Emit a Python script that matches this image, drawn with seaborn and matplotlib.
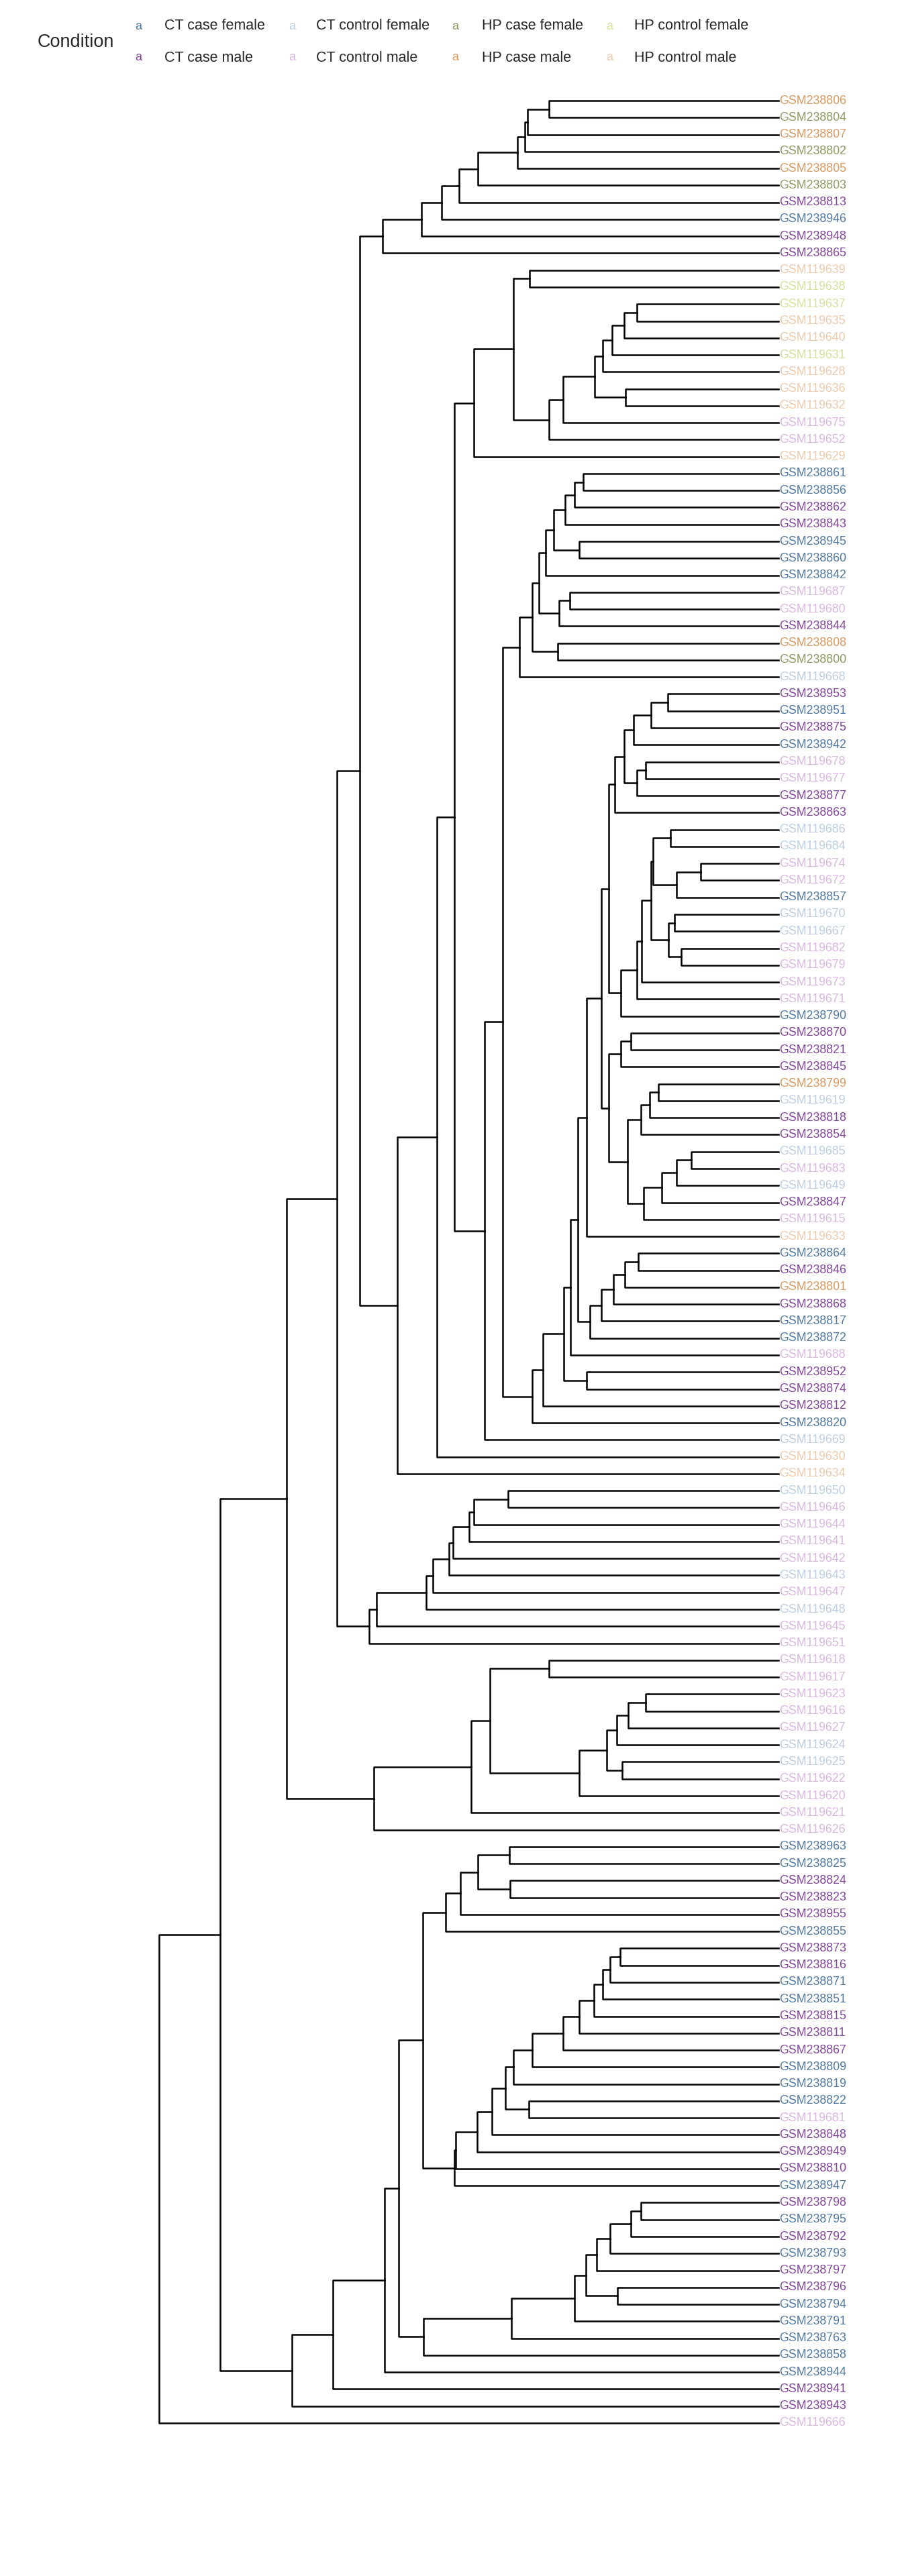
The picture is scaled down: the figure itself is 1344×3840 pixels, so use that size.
import numpy as np
import pandas as pd
import matplotlib
matplotlib.use("Agg")
import matplotlib.pyplot as plt
import seaborn as sns

# leaf labels, top to bottom as drawn
labels = [
    "GSM238806", "GSM238804", "GSM238807", "GSM238802", "GSM238805", "GSM238803",
    "GSM238813", "GSM238946", "GSM238948", "GSM238865", "GSM119639", "GSM119638",
    "GSM119637", "GSM119635", "GSM119640", "GSM119631", "GSM119628", "GSM119636",
    "GSM119632", "GSM119675", "GSM119652", "GSM119629", "GSM238861", "GSM238856",
    "GSM238862", "GSM238843", "GSM238945", "GSM238860", "GSM238842", "GSM119687",
    "GSM119680", "GSM238844", "GSM238808", "GSM238800", "GSM119668", "GSM238953",
    "GSM238951", "GSM238875", "GSM238942", "GSM119678", "GSM119677", "GSM238877",
    "GSM238863", "GSM119686", "GSM119684", "GSM119674", "GSM119672", "GSM238857",
    "GSM119670", "GSM119667", "GSM119682", "GSM119679", "GSM119673", "GSM119671",
    "GSM238790", "GSM238870", "GSM238821", "GSM238845", "GSM238799", "GSM119619",
    "GSM238818", "GSM238854", "GSM119685", "GSM119683", "GSM119649", "GSM238847",
    "GSM119615", "GSM119633", "GSM238864", "GSM238846", "GSM238801", "GSM238868",
    "GSM238817", "GSM238872", "GSM119688", "GSM238952", "GSM238874", "GSM238812",
    "GSM238820", "GSM119669", "GSM119630", "GSM119634", "GSM119650", "GSM119646",
    "GSM119644", "GSM119641", "GSM119642", "GSM119643", "GSM119647", "GSM119648",
    "GSM119645", "GSM119651", "GSM119618", "GSM119617", "GSM119623", "GSM119616",
    "GSM119627", "GSM119624", "GSM119625", "GSM119622", "GSM119620", "GSM119621",
    "GSM119626", "GSM238963", "GSM238825", "GSM238824", "GSM238823", "GSM238955",
    "GSM238855", "GSM238873", "GSM238816", "GSM238871", "GSM238851", "GSM238815",
    "GSM238811", "GSM238867", "GSM238809", "GSM238819", "GSM238822", "GSM119681",
    "GSM238848", "GSM238949", "GSM238810", "GSM238947", "GSM238798", "GSM238795",
    "GSM238792", "GSM238793", "GSM238797", "GSM238796", "GSM238794", "GSM238791",
    "GSM238763", "GSM238858", "GSM238944", "GSM238941", "GSM238943", "GSM119666",
]

# condition code of each leaf (same order as labels)
conditions = [
    "HCM", "HCF", "HCM", "HCF", "HCM", "HCF", "CCM", "CCF", "CCM", "CCM",
    "HNM", "HNF", "HNF", "HNM", "HNM", "HNF", "HNM", "HNM", "HNM", "CNM",
    "CNM", "HNM", "CCF", "CCF", "CCM", "CCM", "CCF", "CCF", "CCF", "CNM",
    "CNM", "CCM", "HCM", "HCF", "CNF", "CCM", "CCF", "CCM", "CCF", "CNM",
    "CNM", "CCM", "CCM", "CNF", "CNF", "CNM", "CNM", "CCF", "CNF", "CNF",
    "CNM", "CNM", "CNM", "CNM", "CCF", "CCM", "CCM", "CCM", "HCM", "CNF",
    "CCM", "CCM", "CNF", "CNM", "CNF", "CCM", "CNM", "HNM", "CCF", "CCM",
    "HCM", "CCM", "CCF", "CCF", "CNM", "CCM", "CCM", "CCM", "CCF", "CNF",
    "HNM", "HNM", "CNF", "CNM", "CNM", "CNM", "CNM", "CNF", "CNM", "CNF",
    "CNM", "CNM", "CNM", "CNM", "CNM", "CNM", "CNM", "CNF", "CNF", "CNM",
    "CNM", "CNM", "CNM", "CCF", "CCF", "CCM", "CCM", "CCM", "CCF", "CCM",
    "CCM", "CCF", "CCF", "CCM", "CCM", "CCM", "CCF", "CCF", "CCF", "CNM",
    "CCM", "CCM", "CCM", "CCF", "CCM", "CCF", "CCM", "CCF", "CCM", "CCM",
    "CCF", "CCF", "CCF", "CCF", "CCF", "CCM", "CCM", "CNM",
]

condition_names = {
    "CCF": "CT case female", "CCM": "CT case male",
    "CNF": "CT control female", "CNM": "CT control male",
    "HCF": "HP case female", "HCM": "HP case male",
    "HNF": "HP control female", "HNM": "HP control male",
}
condition_colors = {
    "CCF": "#52799f", "CCM": "#83479a",
    "CNF": "#bdcee0", "CNM": "#d9b8e0",
    "HCF": "#8b9c62", "HCM": "#d6995f",
    "HNF": "#d6e19d", "HNM": "#edcaab",
}
legend_order = ["CCF", "CNF", "HCF", "HNF", "CCM", "CNM", "HCM", "HNM"]

# merges: (first leaf, last leaf, merge height), leaves numbered from 1
merges = [
    (1, 2, 471), (1, 3, 515), (1, 4, 520), (1, 5, 535), (1, 6, 616),
    (1, 7, 655), (1, 8, 691), (1, 9, 732), (1, 10, 812),
    (11, 12, 511), (13, 14, 291), (13, 15, 317), (13, 16, 341), (13, 17, 361),
    (18, 19, 314), (13, 19, 377), (13, 20, 442), (13, 21, 471), (11, 21, 543),
    (11, 22, 625),
    (23, 24, 401), (23, 25, 418), (23, 26, 438), (27, 28, 409), (23, 28, 461),
    (23, 29, 478), (30, 31, 428), (30, 32, 450), (23, 32, 491), (33, 34, 453),
    (23, 34, 505), (23, 35, 531),
    (36, 37, 227), (36, 38, 261), (36, 39, 297), (40, 41, 272), (40, 42, 290),
    (36, 42, 317), (36, 43, 336), (44, 45, 222), (46, 47, 160), (46, 48, 209),
    (44, 48, 257), (49, 50, 213), (51, 52, 200), (49, 52, 226), (44, 52, 262),
    (44, 53, 281), (44, 54, 290), (44, 55, 324), (36, 55, 348),
    (56, 57, 303), (56, 58, 324), (59, 60, 246), (59, 61, 264), (59, 62, 282),
    (63, 64, 179), (63, 65, 209), (63, 66, 240), (63, 67, 276), (59, 67, 310),
    (56, 67, 348), (36, 67, 363), (36, 68, 393),
    (69, 70, 287), (69, 71, 315), (69, 72, 338), (69, 73, 363), (69, 74, 387),
    (36, 74, 411), (36, 75, 427), (76, 77, 393), (36, 77, 440), (36, 78, 483),
    (36, 79, 505), (23, 79, 566), (23, 80, 602), (11, 80, 665), (11, 81, 700),
    (11, 82, 782), (1, 82, 859),
    (83, 84, 554), (83, 85, 625), (83, 86, 634), (83, 87, 668), (83, 88, 676),
    (83, 89, 708), (83, 90, 722), (83, 91, 824), (83, 92, 840), (1, 92, 906),
    (93, 94, 471), (95, 96, 272), (95, 97, 308), (95, 98, 331), (99, 100, 320),
    (95, 100, 352), (95, 101, 409), (93, 101, 592), (93, 102, 630),
    (93, 103, 830), (1, 103, 1008),
    (104, 105, 552), (106, 107, 551), (104, 107, 617), (104, 108, 652),
    (104, 109, 683),
    (110, 111, 325), (110, 112, 345), (110, 113, 360), (110, 114, 379),
    (110, 115, 409), (110, 116, 441), (110, 117, 505), (110, 118, 544),
    (119, 120, 512), (110, 120, 560), (110, 121, 587), (110, 122, 618),
    (110, 123, 662), (110, 124, 665), (104, 124, 729),
    (125, 126, 282), (125, 127, 303), (125, 128, 346), (125, 129, 373),
    (130, 131, 330), (125, 131, 395), (125, 132, 418), (125, 133, 547),
    (125, 134, 728), (104, 134, 779), (104, 135, 807), (104, 136, 913),
    (104, 137, 998), (1, 137, 1145), (1, 138, 1270),
]

n = len(labels)

# --- lay out the dendrogram: each merge becomes one elbow path ---
node_y = {(i, i): float(i) for i in range(1, n + 1)}
node_h = {(i, i): 0.0 for i in range(1, n + 1)}
ends_from = {i: [i] for i in range(1, n + 1)}
rows = []
for k, (lo, hi, h) in enumerate(sorted(merges, key=lambda m: m[1] - m[0])):
    mid = max(e for e in ends_from[lo] if e < hi)
    left, right = (lo, mid), (mid + 1, hi)
    y1, y2 = node_y[left], node_y[right]
    path = [(node_h[left], y1), (h, y1), (h, y2), (node_h[right], y2)]
    for j, (px, py) in enumerate(path):
        rows.append({"node": k, "step": j, "height": px, "leaf_pos": py})
    node_y[(lo, hi)] = (y1 + y2) / 2
    node_h[(lo, hi)] = h
    ends_from[lo].append(hi)
seg_df = pd.DataFrame(rows)
root_h = max(m[2] for m in merges)

sns.set_theme(style="white")
plt.rcParams["font.family"] = ["Liberation Sans", "DejaVu Sans"]

W, H = 1344, 3840
fig = plt.figure(figsize=(W / 100, H / 100), dpi=100)
top_px, step_px = 150, 25.27
ax = fig.add_axes([
    237 / W,
    1 - (top_px + (n - 0.5) * step_px) / H,
    (1160 - 237) / W,
    n * step_px / H,
])
sns.lineplot(
    data=seg_df, x="height", y="leaf_pos", units="node", estimator=None,
    sort=False, color="black", linewidth=1.8, legend=False, ax=ax,
)
for line in ax.lines:
    line.set_clip_on(False)
    line.set_solid_capstyle("projecting")
ax.set_xlim(root_h, 0)
ax.set_ylim(n + 0.5, 0.5)
ax.set_axis_off()

for i, (lab, cond) in enumerate(zip(labels, conditions), start=1):
    ax.text(-1.5, i, lab, color=condition_colors[cond], fontsize=12.8,
            ha="left", va="center")

# legend drawn as text keys, two rows
fig.text(56 / W, 1 - 63 / H, "Condition", fontsize=19.5, ha="left", va="center")
key_x = [206, 435, 678, 908]
text_x = [245, 471, 718, 945]
row_y = [39, 86]
for idx, code in enumerate(legend_order):
    r, c = divmod(idx, 4)
    fig.text(key_x[c] / W, 1 - row_y[r] / H, "a", color=condition_colors[code],
             fontsize=13, ha="center", va="center")
    fig.text(text_x[c] / W, 1 - row_y[r] / H, condition_names[code],
             fontsize=15.5, ha="left", va="center")

fig.savefig("out.png", dpi=100)
plt.close(fig)
